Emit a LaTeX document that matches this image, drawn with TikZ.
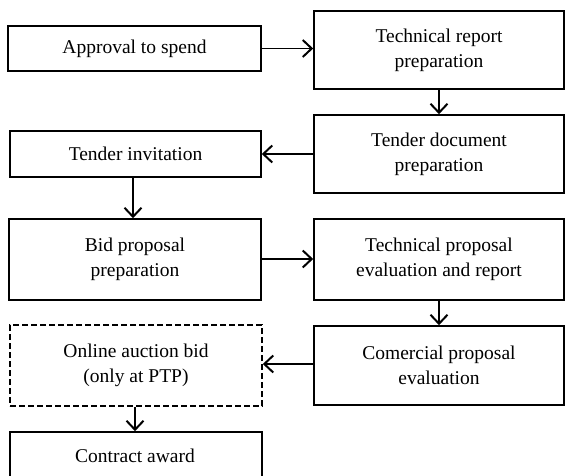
\documentclass[tikz,border=0pt]{standalone}
\usepackage{fontspec}
\setmainfont{Liberation Serif}
\usetikzlibrary{arrows.meta}
\begin{document}
\begin{tikzpicture}[x=1pt,y=-1pt,
  box/.style={draw,line width=1.6pt,inner sep=0pt,align=center,
    font=\fontsize{19.5}{25}\selectfont},
  conn/.style={line width=1.6pt,-{Straight Barb[length=9pt,width=17pt,line width=2pt]}}]
\useasboundingbox (0,0) rectangle (565,476);
\newcommand{\bx}[6]{\node[box,#6,minimum width={#4-#2},minimum height={#5-#3}] (#1) at ({(#2+#4)/2},{(#3+#5)/2}) {};}
\bx{appr}{8}{26}{261}{71}{}
\bx{tech}{314}{11}{564}{89}{}
\bx{tdoc}{314}{115}{564}{193}{}
\bx{tinv}{10}{131}{261}{177}{}
\bx{bid}{9}{219}{261}{300}{}
\bx{tprop}{314}{219}{564}{300}{}
\bx{comm}{314}{326}{564}{405}{}
\bx{onl}{10}{325}{262}{406}{dashed,dash pattern=on 6pt off 3pt}
\bx{contr}{10}{432}{262}{480}{}
\node[box,draw=none] at (appr) {Approval to spend};
\node[box,draw=none] at (tech) {Technical report\\preparation};
\node[box,draw=none] at (tdoc) {Tender document\\preparation};
\node[box,draw=none] at (tinv) {Tender invitation};
\node[box,draw=none] at (bid) {Bid proposal\\preparation};
\node[box,draw=none] at (tprop) {Technical proposal\\evaluation and report};
\node[box,draw=none] at (comm) {Comercial proposal\\evaluation};
\node[box,draw=none] at (onl) {Online auction bid\\(only at PTP)};
\node[box,draw=none] at (135,456) {Contract award};
\draw[conn] (appr.east) -- (tech.west|-appr.east);
\draw[conn] (tech.south) -- (tdoc.north);
\draw[conn] (tdoc.west) -- (tinv.east|-tdoc.west);
\draw[conn] (tinv.south-|133,0) -- (bid.north-|133,0);
\draw[conn] (bid.east|-0,259) -- (tprop.west|-0,259);
\draw[conn] (tprop.south) -- (comm.north);
\draw[conn] (comm.west|-0,364) -- (onl.east|-0,364);
\draw[conn] (onl.south-|135,0) -- (contr.north-|135,0);
\end{tikzpicture}
\end{document}
